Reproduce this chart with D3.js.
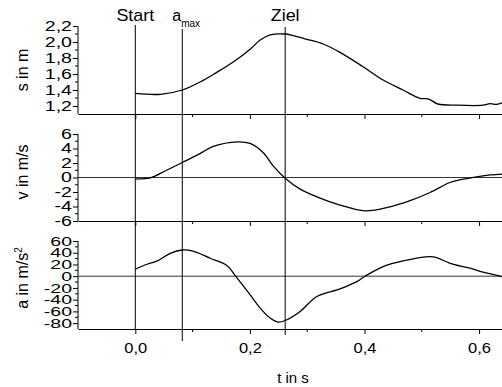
<!DOCTYPE html>
<html>
<head>
<meta charset="utf-8">
<script src="https://cdn.jsdelivr.net/npm/d3@7"></script>
<style>
  body { margin: 0; background: #fff; }
  svg { display: block; font-family: "Liberation Sans", Arial, sans-serif; }
  .axis path, .axis line { stroke: #000; stroke-width: 1; }
  .curve { fill: none; stroke: #000; stroke-width: 1.3; }
  .zero { stroke: #333; stroke-width: 1; }
  .marker { stroke: #000; stroke-width: 1; }
</style>
</head>
<body>
<div id="chart"></div>
<script>
// values (t in s)
var tS = [0, 0.044, 0.082, 0.113, 0.142, 0.171, 0.2005, 0.218, 0.2354, 0.2616, 0.2755, 0.2994,
          0.3278, 0.3574, 0.3976, 0.4325, 0.4673, 0.4969, 0.511, 0.528, 0.561, 0.6068, 0.619, 0.631, 0.64];
var sValues = [1.358, 1.346, 1.40, 1.50, 1.62, 1.75, 1.91, 2.025, 2.09, 2.10, 2.08, 2.034,
               1.975, 1.87, 1.69, 1.525, 1.40, 1.296, 1.29, 1.225, 1.21, 1.21, 1.23, 1.22, 1.24];

var tV = [0, 0.026, 0.052, 0.082, 0.113, 0.136, 0.178, 0.2005, 0.223, 0.2406, 0.2616, 0.2877,
          0.3168, 0.3574, 0.401, 0.4446, 0.4795, 0.5144, 0.5493, 0.5784, 0.6068, 0.64];
var vValues = [-0.2, -0.05, 0.9, 2.07, 3.3, 4.28, 4.92, 4.7, 3.45, 1.6, -0.1, -1.6,
               -2.66, -3.8, -4.6, -4.04, -3.2, -2.07, -0.69, -0.14, 0.23, 0.46];

var tA = [0, 0.0204, 0.0384, 0.061, 0.082, 0.0994, 0.1308, 0.1604, 0.1744, 0.2005, 0.218, 0.2354,
          0.2494, 0.2616, 0.2877, 0.3168, 0.3574, 0.3866, 0.401, 0.4325, 0.4673, 0.5144, 0.526,
          0.5493, 0.584, 0.6068, 0.64];
var aValues = [11.9, 20.4, 26, 39, 44.7, 43, 30.6, 18, 1, -31.8, -54.4, -71.4,
               -78.2, -75.5, -60, -34.7, -21.6, -9.2, 0, 16.3, 26, 33.3, 31.6,
               22, 13.6, 6.8, -0.7];

// tick labels
var xTicks = [0, 0.2, 0.4, 0.6];
var xMinor = [0.1, 0.3, 0.5];
var sTicks = [1.2, 1.4, 1.6, 1.8, 2.0, 2.2];
var sMinor = [1.3, 1.5, 1.7, 1.9, 2.1];
var vTicks = [-6, -4, -2, 0, 2, 4, 6];
var vMinor = [-5, -3, -1, 1, 3, 5];
var aTicks = [-80, -60, -40, -20, 0, 20, 40, 60];
var aMinor = [-70, -50, -30, -10, 10, 30, 50];

// event markers
var markerNames = ["Start", "a", "Ziel"];
var markerSubs = ["", "max", ""];
var markerTimes = [0, 0.082, 0.2616];

var width = 502, height = 387;
var left = 78, right = 502;

var de = d3.formatLocale({decimal: ",", thousands: ".", grouping: [3], currency: ["", ""], minus: "-"});

var svg = d3.select("#chart").append("svg")
    .attr("width", width)
    .attr("height", height);

var x = d3.scaleLinear().domain([-0.1, 0.64]).range([left, right]);

// panels stacked from top to bottom
var panels = [
  {t: tS, v: sValues, ticks: sTicks, minor: sMinor, domain: [1.1, 2.2], top: 26, bottom: 114,
   fmt: de.format(".1f"), label: "s in m", zero: false, labelY: 70, font: 14, stretch: 1.4},
  {t: tV, v: vValues, ticks: vTicks, minor: vMinor, domain: [-6, 8.76], top: 114, bottom: 221,
   fmt: de.format("d"), label: "v in m/s", zero: true, labelY: 172, font: 14, stretch: 1.4},
  {t: tA, v: aValues, ticks: aTicks, minor: aMinor, domain: [-90, 94.1], top: 221, bottom: 329,
   fmt: de.format("d"), label: "a in m/s", sup: "2", zero: true, labelY: 278, font: 13, stretch: 1.5}
];

panels.forEach(function(p, i) {
  var y = d3.scaleLinear().domain(p.domain).range([p.bottom, p.top]);
  var g = svg.append("g");

  // y axis
  var yAxis = g.append("g")
      .attr("class", "axis")
      .attr("transform", "translate(" + left + ",0)")
      .call(d3.axisLeft(y).tickValues(p.ticks).tickFormat(p.fmt).tickSize(5));
  yAxis.select(".domain").remove();
  yAxis.selectAll(".tick text")
      .style("font-size", p.font + "px")
      .attr("fill", "#000")
      .attr("x", -6 / p.stretch)
      .attr("transform", "scale(" + p.stretch + ",1)");
  yAxis.selectAll(".minor").data(p.minor).enter().append("line")
      .attr("class", "minor")
      .attr("x1", -3).attr("x2", 0)
      .attr("y1", function(d) { return y(d); })
      .attr("y2", function(d) { return y(d); });
  yAxis.append("line")
      .attr("x1", 0).attr("x2", 0)
      .attr("y1", y(d3.max(p.ticks)))
      .attr("y2", p.bottom);

  // x axis at the bottom of every panel
  var xAxis = g.append("g")
      .attr("class", "axis")
      .attr("transform", "translate(0," + p.bottom + ")")
      .call(d3.axisBottom(x).tickValues(xTicks).tickFormat(de.format(".1f")).tickSize(5).tickSizeOuter(0).tickPadding(8));
  xAxis.selectAll(".minor").data(xMinor).enter().append("line")
      .attr("class", "minor")
      .attr("x1", function(d) { return x(d); })
      .attr("x2", function(d) { return x(d); })
      .attr("y1", 0).attr("y2", 3);
  if (i < panels.length - 1) {
    xAxis.selectAll(".tick text").remove();
  } else {
    xAxis.selectAll(".tick text")
      .style("font-size", "15px")
      .attr("fill", "#000")
      .attr("transform", "scale(1.1,1)");
  }

  if (p.zero) {
    g.append("line")
      .attr("class", "zero")
      .attr("x1", left).attr("x2", right)
      .attr("y1", y(0)).attr("y2", y(0));
  }

  var line = d3.line()
      .x(function(d, j) { return x(p.t[j]); })
      .y(function(d) { return y(d); })
      .curve(d3.curveCatmullRom.alpha(0.5));
  g.append("path")
      .attr("class", "curve")
      .attr("d", line(p.v));

  // axis title
  var title = g.append("text")
      .attr("transform", "translate(28," + p.labelY + ") rotate(-90)")
      .attr("text-anchor", "middle")
      .style("font-size", "16px")
      .text(p.label);
  if (p.sup) {
    title.append("tspan")
      .attr("dy", -6)
      .style("font-size", "10px")
      .text(p.sup);
  }
});

// vertical marker lines
var markerTop = [25, 29, 27];
var markerBottom = [329, 341, 335];
markerTimes.forEach(function(t, i) {
  svg.append("line")
    .attr("class", "marker")
    .attr("x1", x(t)).attr("x2", x(t))
    .attr("y1", markerTop[i]).attr("y2", markerBottom[i]);
  var label = svg.append("text")
    .style("font-size", "16px")
    .attr("y", 21);
  if (markerSubs[i]) {
    label.attr("x", x(t) - 10).attr("text-anchor", "start");
    label.append("tspan").text(markerNames[i]);
    label.append("tspan").attr("dy", 6).style("font-size", "10px").text(markerSubs[i]);
  } else {
    label.attr("x", x(t) / 1.12).attr("text-anchor", "middle")
      .attr("transform", "scale(1.12,1)")
      .text(markerNames[i]);
  }
});

svg.append("text")
  .attr("x", 293)
  .attr("y", 383)
  .attr("text-anchor", "middle")
  .style("font-size", "15px")
  .text("t in s");
</script>
</body>
</html>
